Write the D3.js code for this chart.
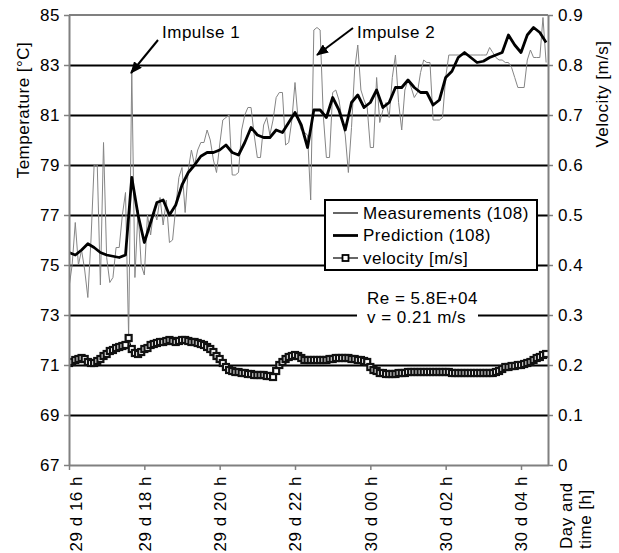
<!DOCTYPE html>
<html lang="en">
<head>
<meta charset="utf-8">
<title>Temperature prediction and velocity</title>
<script src="https://d3js.org/d3.v7.min.js"></script>
<style type="text/css">
    body { margin: 0; background: #fff; }
    svg text {
        font-family: "Liberation Sans", Arial, sans-serif;
        font-size: 17px;
        letter-spacing: 0.5px;
        fill: #000;
    }
</style>
</head>
<body>
<script type="text/javascript">

// axis ticks
var tempTicks = [67, 69, 71, 73, 75, 77, 79, 81, 83, 85];
var gridTicks = [69, 71, 73, 75, 77, 79, 81, 83];
var velTicks = [0, 0.1, 0.2, 0.3, 0.4, 0.5, 0.6, 0.7, 0.8, 0.9];
var legendLabels = ["Measurements (108)", "Prediction (108)", "velocity [m/s]"];

// time span shown: 29 d 16 h .. 30 d 04:43
var start = new Date(2000, 0, 29, 16, 0);
var end = new Date(2000, 0, 30, 4, 43);

// measured temperature [°C], one sample every 5 min from start
var measured = [
    74.1, 75.0, 76.7, 75.0, 75.6, 74.8, 73.7, 76.0, 79.0, 79.0,
    74.2, 79.9, 75.3, 74.3, 74.5, 75.7, 75.7, 77.0, 77.9, 72.1,
    82.8, 74.5, 77.2, 75.0, 74.6, 77.0, 76.2, 77.2, 76.8, 77.7,
    76.6, 77.6, 75.9, 76.0, 77.3, 78.5, 78.9, 77.1, 78.8, 79.6,
    79.0, 79.6, 79.9, 79.9, 80.4, 80.0, 79.2, 78.7, 79.8, 80.8,
    80.9, 81.0, 78.6, 78.6, 78.7, 80.4, 81.0, 81.3, 81.3, 80.2,
    79.3, 79.3, 80.6, 80.9, 80.2, 80.8, 81.7, 81.9, 81.9, 79.8,
    79.9, 80.8, 82.3, 80.8, 80.4, 80.3, 80.2, 77.6, 84.4, 84.5,
    84.4, 81.0, 79.3, 79.3, 81.9, 82.0, 81.6, 80.8, 80.2, 78.7,
    80.5, 82.8, 83.8, 82.0, 81.6, 81.3, 79.7, 79.7, 82.5, 80.7,
    81.2, 81.5, 80.9, 82.5, 83.4, 81.5, 80.4, 82.0, 82.4, 82.1,
    81.7, 81.9, 82.7, 83.2, 83.1, 83.1, 80.8, 80.8, 80.8, 80.9,
    82.5, 83.4, 83.4, 83.4, 83.4, 83.4, 83.4, 83.4, 83.4, 83.4,
    83.4, 83.4, 83.4, 83.4, 83.7, 83.5, 83.3, 83.2, 83.2, 83.1,
    83.1, 82.9, 82.5, 82.1, 82.1, 82.1, 83.2, 83.6, 83.3, 83.3,
    83.3, 84.9, 83.1
];

// predicted temperature [°C], one value every 10 min from start
var predicted = [
    75.5, 75.4, 75.6, 75.85, 75.7, 75.5, 75.4, 75.35, 75.3, 75.4,
    78.5, 77.0, 75.9, 76.7, 77.5, 77.6, 77.0, 77.4, 78.2, 78.7,
    79.0, 79.35, 79.5, 79.5, 79.6, 79.8, 79.5, 79.4, 79.9, 80.5,
    80.2, 80.1, 80.1, 80.4, 80.3, 80.7, 81.1, 80.6, 79.7, 81.2,
    81.2, 80.9, 81.7, 81.2, 80.4, 81.5, 81.8, 81.3, 81.5, 82.0,
    81.3, 81.5, 82.1, 82.1, 82.4, 82.1, 81.9, 81.9, 81.4, 81.6,
    82.5, 82.75, 83.3, 83.5, 83.3, 83.1, 83.15, 83.3, 83.4, 83.5,
    84.2, 83.8, 83.5, 84.2, 84.5, 84.3, 83.9
];

// flow velocity [m/s], one sample every 5 min from start
var velocity = [
    0.204, 0.206, 0.21, 0.212, 0.214, 0.212, 0.206, 0.204, 0.204, 0.208,
    0.212, 0.218, 0.222, 0.228, 0.23, 0.234, 0.236, 0.238, 0.24, 0.254,
    0.232, 0.224, 0.222, 0.226, 0.232, 0.234, 0.24, 0.242, 0.244, 0.246,
    0.246, 0.248, 0.25, 0.248, 0.246, 0.248, 0.25, 0.25, 0.248, 0.246,
    0.246, 0.244, 0.242, 0.24, 0.236, 0.232, 0.226, 0.218, 0.212, 0.204,
    0.196, 0.19, 0.188, 0.186, 0.186, 0.184, 0.184, 0.182, 0.182, 0.18,
    0.18, 0.18, 0.18, 0.178, 0.178, 0.176, 0.188, 0.2, 0.206, 0.212,
    0.216, 0.218, 0.22, 0.218, 0.214, 0.21, 0.21, 0.21, 0.21, 0.21,
    0.21, 0.21, 0.21, 0.212, 0.212, 0.214, 0.214, 0.214, 0.214, 0.214,
    0.212, 0.212, 0.21, 0.21, 0.208, 0.206, 0.196, 0.19, 0.188, 0.184,
    0.184, 0.182, 0.182, 0.182, 0.182, 0.184, 0.184, 0.184, 0.186, 0.186,
    0.186, 0.186, 0.186, 0.186, 0.186, 0.186, 0.186, 0.186, 0.186, 0.186,
    0.186, 0.186, 0.184, 0.184, 0.184, 0.184, 0.184, 0.184, 0.184, 0.184,
    0.184, 0.184, 0.184, 0.184, 0.184, 0.184, 0.186, 0.188, 0.192, 0.196,
    0.196, 0.198, 0.198, 0.2, 0.2, 0.202, 0.204, 0.206, 0.21, 0.214,
    0.216, 0.22, 0.222
];

// sample times
var measTimes = measured.map(function(d, i) { return d3.timeMinute.offset(start, i * 5); });
var predTimes = predicted.map(function(d, i) { return d3.timeMinute.offset(start, i * 10); });
var velTimes = velocity.map(function(d, i) { return d3.timeMinute.offset(start, i * 5); });

var svgWidth = 619, svgHeight = 553;
var margin = {top: 15, right: 71, bottom: 88, left: 69},
    width = svgWidth - margin.left - margin.right,
    height = svgHeight - margin.top - margin.bottom;

var axisColor = "#808080";

// scales
var xScale = d3.scaleTime().domain([start, end]).range([0, width]);
var yTemp = d3.scaleLinear().domain([67, 85]).range([height, 0]);
var yVel = d3.scaleLinear().domain([0, 0.9]).range([height, 0]);

var root = d3.select("body").append("svg")
    .attr("width", svgWidth)
    .attr("height", svgHeight);

var defs = root.append("defs");
defs.append("clipPath").attr("id", "plotClip")
    .append("rect").attr("x", 0).attr("y", -2).attr("width", width).attr("height", height + 4);
defs.append("marker")
    .attr("id", "arrow")
    .attr("markerUnits", "userSpaceOnUse")
    .attr("markerWidth", 12).attr("markerHeight", 10)
    .attr("refX", 11).attr("refY", 5)
    .attr("orient", "auto")
    .append("path").attr("d", "M0,0 L12,5 L0,10 Z").attr("fill", "#000");

var svg = root.append("g")
    .attr("transform", "translate(" + margin.left + "," + margin.top + ")");

// horizontal grid lines
svg.append("g")
    .attr("class", "grid")
    .call(d3.axisLeft(yTemp).tickValues(gridTicks).tickSize(-width).tickFormat(""))
    .call(function(g) { g.select(".domain").remove(); })
    .selectAll("line")
    .attr("stroke", "#000")
    .attr("stroke-width", 2);

var plot = svg.append("g").attr("clip-path", "url(#plotClip)");

// measurements
plot.append("path")
    .datum(measured)
    .attr("fill", "none")
    .attr("stroke", "#858585")
    .attr("stroke-width", 1)
    .attr("d", d3.line()
        .x(function(d, i) { return xScale(measTimes[i]); })
        .y(function(d) { return yTemp(d); }));

// prediction
plot.append("path")
    .datum(predicted)
    .attr("fill", "none")
    .attr("stroke", "#000")
    .attr("stroke-width", 2.8)
    .attr("stroke-linejoin", "round")
    .attr("d", d3.line()
        .x(function(d, i) { return xScale(predTimes[i]); })
        .y(function(d) { return yTemp(d); }));

// velocity with square markers
plot.append("path")
    .datum(velocity)
    .attr("fill", "none")
    .attr("stroke", "#000")
    .attr("stroke-width", 1)
    .attr("d", d3.line()
        .x(function(d, i) { return xScale(velTimes[i]); })
        .y(function(d) { return yVel(d); }));

plot.selectAll(".vdot")
    .data(velocity)
    .enter().append("rect")
    .attr("class", "vdot")
    .attr("x", function(d, i) { return xScale(velTimes[i]) - 3; })
    .attr("y", function(d) { return yVel(d) - 3; })
    .attr("width", 6)
    .attr("height", 6)
    .attr("fill", "#fff")
    .attr("stroke", "#111")
    .attr("stroke-width", 2.2);

// top border
svg.append("line")
    .attr("x1", 0).attr("x2", width).attr("y1", 0).attr("y2", 0)
    .attr("stroke", axisColor).attr("stroke-width", 2);

function styleAxis(g) {
    g.select(".domain").attr("stroke", axisColor).attr("stroke-width", 2);
    g.selectAll(".tick line").attr("stroke", axisColor).attr("stroke-width", 1.5);
}

// left axis
svg.append("g")
    .call(d3.axisLeft(yTemp).tickValues(tempTicks).tickSize(5).tickSizeOuter(0).tickPadding(4))
    .call(styleAxis);

// right axis
svg.append("g")
    .attr("transform", "translate(" + width + ",0)")
    .call(d3.axisRight(yVel).tickValues(velTicks).tickSize(5).tickSizeOuter(0).tickPadding(5)
        .tickFormat(function(d) { return d === 0 ? "0" : d3.format(".1f")(d); }))
    .call(styleAxis);

// bottom axis
var timeFormat = d3.timeFormat("%d d %H h");
svg.append("g")
    .attr("transform", "translate(0," + height + ")")
    .call(d3.axisBottom(xScale).tickValues(d3.timeHour.every(2).range(start, end))
        .tickSize(5).tickSizeOuter(0).tickFormat(timeFormat))
    .call(styleAxis)
    .selectAll("text")
    .attr("transform", "rotate(-90)")
    .attr("x", -11)
    .attr("y", function(d, i) { return i === 0 ? 7 : 0; })
    .attr("dy", "0.35em")
    .style("text-anchor", "end");

// axis titles
root.append("text")
    .attr("transform", "translate(29,110) rotate(-90)")
    .style("text-anchor", "middle")
    .text("Temperature [°C]");

root.append("text")
    .attr("transform", "translate(608,94) rotate(-90)")
    .style("text-anchor", "middle")
    .text("Velocity [m/s]");

root.append("text")
    .attr("transform", "translate(572,549) rotate(-90)")
    .text("Day and");
root.append("text")
    .attr("transform", "translate(591,549) rotate(-90)")
    .text("time [h]");

// legend
var legend = root.append("g").attr("transform", "translate(325,200)");
legend.append("rect")
    .attr("width", 212).attr("height", 70)
    .attr("fill", "#fff").attr("stroke", "#000").attr("stroke-width", 2);

var rows = legend.selectAll(".row")
    .data(legendLabels)
    .enter().append("g")
    .attr("class", "row")
    .attr("transform", function(d, i) { return "translate(0," + (13 + i * 22.5) + ")"; });

rows.append("line")
    .attr("x1", 8).attr("x2", 33)
    .attr("stroke", "#000")
    .attr("stroke-width", function(d, i) { return i === 1 ? 2.8 : 1.2; });

rows.filter(function(d, i) { return i === 2; })
    .append("rect")
    .attr("x", 17.5).attr("y", -3).attr("width", 6).attr("height", 6)
    .attr("fill", "#fff").attr("stroke", "#000").attr("stroke-width", 1.8);

rows.append("text")
    .attr("x", 38)
    .attr("dy", "0.35em")
    .text(function(d) { return d; });

// flow info
root.append("rect")
    .attr("x", 357).attr("y", 286).attr("width", 121).attr("height", 42)
    .attr("fill", "#fff");
root.append("text").attr("x", 367).attr("y", 298).attr("dy", "0.35em").text("Re = 5.8E+04");
root.append("text").attr("x", 367).attr("y", 317).attr("dy", "0.35em").text("v = 0.21 m/s");

// impulse annotations
root.append("text").attr("x", 162).attr("y", 32).attr("dy", "0.35em").text("Impulse 1");
root.append("line")
    .attr("x1", 158).attr("y1", 40).attr("x2", 131).attr("y2", 73)
    .attr("stroke", "#000").attr("stroke-width", 2)
    .attr("marker-end", "url(#arrow)");

root.append("text").attr("x", 357).attr("y", 32).attr("dy", "0.35em").text("Impulse 2");
root.append("line")
    .attr("x1", 353).attr("y1", 28).attr("x2", 317).attr("y2", 55)
    .attr("stroke", "#000").attr("stroke-width", 2)
    .attr("marker-end", "url(#arrow)");

</script>
</body>
</html>
